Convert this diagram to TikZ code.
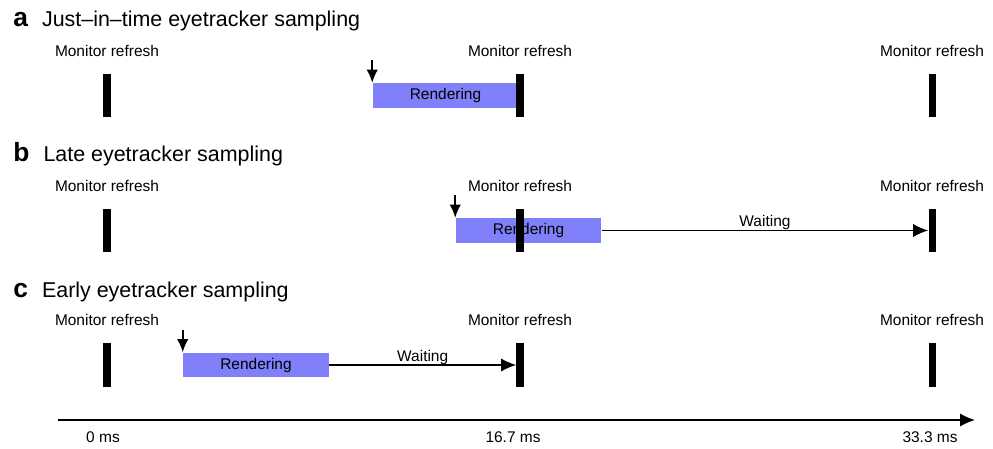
\documentclass[tikz,border=0pt]{standalone}
\usepackage{fontspec}
\setmainfont{Liberation Sans}
\usetikzlibrary{arrows.meta}
\usetikzlibrary{positioning}

\definecolor{renderblue}{RGB}{128,128,250}
\newcommand{\smalltext}{\fontsize{8.8}{10}\selectfont}
\newcommand{\titletext}{\fontsize{12.2}{15}\selectfont}
\newcommand{\panel}[1]{{\fontsize{15}{15}\selectfont\bfseries #1}\hspace{8pt}}

\begin{document}
\begin{tikzpicture}[x=0.02cm,y=-0.02cm,>={Latex[length=8.5pt,width=7.5pt]}]
	\tikzset{refresh/.style = {shape=rectangle, fill=black, inner sep=0pt, minimum width=4pt, minimum height=25pt,
			label={[label distance=6pt, font=\smalltext]above:Monitor refresh}}}
	\tikzset{render/.style = {shape=rectangle, fill=renderblue, inner sep=0pt, minimum width=83pt, minimum height=14pt, font=\smalltext}}
	\tikzset{heading/.style = {anchor=base west, inner sep=0pt, font=\titletext}}
	\tikzset{timing/.style = {->, line width=0.9pt}}
	\tikzset{sample/.style = {-{Latex[length=7.5pt,width=6.5pt]}, line width=1.1pt}}
	\tikzset{wait/.style = {above, font=\smalltext, yshift=-3.5pt}}
	\useasboundingbox (0,0) rectangle (993,449);
	
	% a
	\node[heading] (TA) at (13,27) {\panel{a}Just–in–time eyetracker sampling};
	\node[render] (RA) at (445.5,95.5) {Rendering};
	\node[refresh] (A1) at (107,95.5) {};
	\node[refresh] (A2) at (520,95.5) {};
	\node[refresh] (A3) at (932,95.5) {};
	\coordinate[above=13pt of RA.north west] (SA);
	\draw[sample] (SA) -- (RA.north west);
	
	% b
	\node[heading] (TB) at (13,162) {\panel{b}Late eyetracker sampling};
	\node[render] (RB) at (528.5,230.5) {Rendering};
	\node[refresh] (B1) at (107,230.5) {};
	\node[refresh] (B2) at (520,230.5) {};
	\node[refresh] (B3) at (932,230.5) {};
	\coordinate[above=13pt of RB.north west] (SB);
	\draw[sample] (SB) -- (RB.north west);
	\draw[timing] (RB.east) -- node[wait] {Waiting} (RB.east -| B3.west);
	
	% c
	\node[heading] (TC) at (13,297) {\panel{c}Early eyetracker sampling};
	\node[render] (RC) at (256,365) {Rendering};
	\node[refresh] (C1) at (107,365) {};
	\node[refresh] (C2) at (520,365) {};
	\node[refresh] (C3) at (932,365) {};
	\coordinate[above=13pt of RC.north west] (SC);
	\draw[sample] (SC) -- (RC.north west);
	\draw[timing] (RC.east) -- node[wait] {Waiting} (RC.east -| C2.west);
	
	% time axis
	\coordinate (T0) at (58,420);
	\coordinate (T1) at (975,420);
	\draw[timing] (T0) -- (T1);
	\node[font=\smalltext] (L0) at (103,437) {0 ms};
	\node[font=\smalltext] (L1) at (513,437) {16.7 ms};
	\node[font=\smalltext] (L2) at (930,437) {33.3 ms};
\end{tikzpicture}
\end{document}
